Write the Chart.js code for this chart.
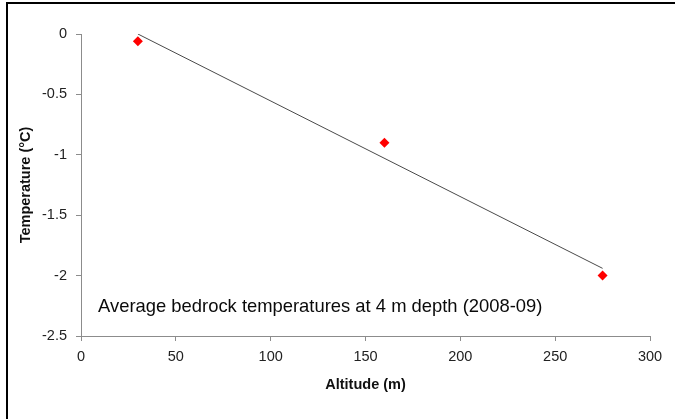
<!DOCTYPE html>
<html>
<head>
<meta charset="utf-8">
<script src="https://cdn.jsdelivr.net/npm/chart.js@4.4.1/dist/chart.umd.min.js"></script>
<style>
  html, body { margin: 0; padding: 0; background: #fff; }
  #wrap { width: 675px; height: 419px; }
</style>
</head>
<body>
<div id="wrap"><canvas id="bedrockChart" width="675" height="419"></canvas></div>
<script>
// Borehole sites: altitude (m) and mean temperature at 4 m depth (°C)
const altitudes = [30, 160, 275];
const temperatures = [-0.06, -0.9, -2.0];

// Fitted trend, two end points
const trendAltitudes = [30, 275];
const trendTemperatures = [0.0, -1.94];

// Axis ranges
const xTicks = [0, 50, 100, 150, 200, 250, 300];
const yTicks = [0, -0.5, -1, -1.5, -2, -2.5];

// Text placed inside the plot, anchored in data units
const noteText = 'Average bedrock temperatures at 4 m depth (2008-09)';
const notePos = { x: 9, y: -2.26 };

const FONT = '"Liberation Sans", Arial, sans-serif';
const AXIS_GREY = '#8c8c8c';

const sitePoints = altitudes.map((a, i) => ({ x: a, y: temperatures[i] }));
const trendPoints = trendAltitudes.map((a, i) => ({ x: a, y: trendTemperatures[i] }));

// Black frame along the top and left edges + the note text
const framePlugin = {
    id: 'frame',
    afterDraw(chart) {
        const ctx = chart.ctx;
        ctx.save();
        ctx.strokeStyle = '#000';
        ctx.lineWidth = 2;
        ctx.beginPath();
        ctx.moveTo(7, 419);
        ctx.lineTo(7, 3);
        ctx.lineTo(675, 3);
        ctx.stroke();

        const xs = chart.scales.x, ys = chart.scales.y;
        ctx.fillStyle = '#0a0a0a';
        ctx.font = '18.4px ' + FONT;
        ctx.textBaseline = 'middle';
        ctx.textAlign = 'left';
        ctx.fillText(noteText, xs.getPixelForValue(notePos.x), ys.getPixelForValue(notePos.y));
        ctx.restore();
    }
};

new Chart(document.getElementById('bedrockChart'), {
    type: 'scatter',
    data: {
        datasets: [
            {
                label: 'Trend',
                data: trendPoints,
                showLine: true,
                borderColor: '#4a4a4a',
                borderWidth: 1,
                pointRadius: 0,
                fill: false
            },
            {
                label: 'Sites',
                data: sitePoints,
                pointStyle: 'rectRot',
                pointRadius: 5,
                backgroundColor: '#ff0000',
                borderColor: '#ff0000',
                borderWidth: 0
            }
        ]
    },
    options: {
        responsive: false,
        animation: false,
        layout: { padding: { top: 34, right: 25, left: 0, bottom: 0 } },
        plugins: {
            legend: { display: false },
            tooltip: { enabled: false }
        },
        scales: {
            x: {
                type: 'linear',
                min: xTicks[0],
                max: xTicks[xTicks.length - 1],
                afterBuildTicks: s => { s.ticks = xTicks.map(v => ({ value: v })); },
                afterFit: s => { s.height = 83; },
                grid: { drawOnChartArea: false, drawTicks: true, tickLength: 5, color: AXIS_GREY },
                border: { color: AXIS_GREY, width: 1 },
                ticks: {
                    color: '#222',
                    padding: 7,
                    font: { family: FONT, size: 14.5 },
                    callback: v => String(v)
                },
                title: {
                    display: true,
                    text: 'Altitude (m)',
                    color: '#111',
                    font: { family: FONT, size: 14.5, weight: 'bold' },
                    padding: { top: 0, bottom: 25 }
                }
            },
            y: {
                type: 'linear',
                min: yTicks[yTicks.length - 1],
                max: yTicks[0],
                afterBuildTicks: s => { s.ticks = yTicks.map(v => ({ value: v })); },
                afterFit: s => { s.width = 81; },
                grid: { drawOnChartArea: false, drawTicks: true, tickLength: 5, color: AXIS_GREY },
                border: { color: AXIS_GREY, width: 1 },
                ticks: {
                    color: '#222',
                    padding: 9,
                    font: { family: FONT, size: 14.5 },
                    callback: v => String(Math.round(v * 10) / 10)
                },
                title: {
                    display: true,
                    text: 'Temperature (°C)',
                    color: '#111',
                    font: { family: FONT, size: 14.5, weight: 'bold' },
                    padding: { top: 17, bottom: 0 }
                }
            }
        }
    },
    plugins: [framePlugin]
});
</script>
</body>
</html>
